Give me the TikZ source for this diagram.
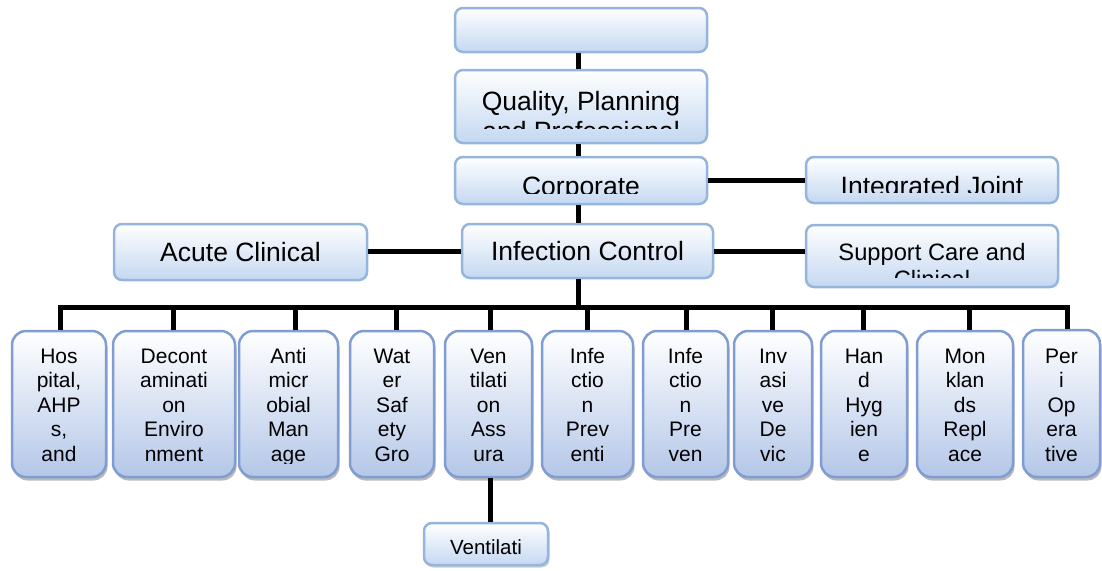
\documentclass[tikz,border=0pt]{standalone}
\usepackage{fontspec}
\setmainfont{Liberation Sans}
\usetikzlibrary{shadows}
\definecolor{tbord}{RGB}{149,181,220}
\definecolor{tfill}{RGB}{196,216,241}
\definecolor{bbord}{RGB}{127,157,210}
\definecolor{bfill}{RGB}{180,199,232}
\tikzset{
  topbox/.style={draw=tbord, line width=2.5pt, rounded corners=8pt, top color=white, bottom color=tfill, inner sep=0pt},
  botbox/.style={draw=bbord, line width=2.5pt, rounded corners=14pt, top color=white, bottom color=bfill, inner sep=0pt,
    drop shadow={shadow xshift=1.5pt, shadow yshift=-3.5pt, fill=black!50, opacity=0.55}},
  smallbox/.style={topbox, drop shadow={shadow xshift=1.5pt, shadow yshift=-2.5pt, fill=black!40, opacity=0.5}},
  link/.style={line width=5pt},
  bigtxt/.style={font=\fontsize{26.5}{30.5}\selectfont, anchor=base, inner sep=0pt},
  midtxt/.style={font=\fontsize{23.7}{27}\selectfont, anchor=base, inner sep=0pt},
  bottxt/.style={font=\fontsize{21}{24.5}\selectfont, anchor=base, inner sep=0pt},
  vtxt/.style={font=\fontsize{20.5}{24}\selectfont, anchor=base, inner sep=0pt},
}
% style, name, x1, y1, x2, y2
\newcommand\orgbox[6]{%
  \node[#1, minimum width={(#5-#3)*1pt}, minimum height={(#6-#4)*1pt}] (#2) at ({(#3+#5)/2},{(#4+#6)/2}) {};}
% name, clip x1, clip y1, clip x2, clip y2, style, baseline y, text
\newcommand\cliptext[8]{%
  \begin{scope}\clip (#2,#3) rectangle (#4,#5);
  \node[#6] (#1) at ({(#2+#4)/2},#7) {\begin{tabular}[t]{@{}c@{}}#8\end{tabular}};
  \end{scope}}
\begin{document}
\begin{tikzpicture}[x=1pt,y=-1pt]
\useasboundingbox (0,0) rectangle (1102,570);

% upper boxes
\orgbox{topbox}{top}{455}{8}{707}{52}
\orgbox{topbox}{qpp}{455}{70}{707}{143}
\orgbox{topbox}{corp}{455}{157}{707}{204}
\orgbox{topbox}{ij}{806}{157}{1058}{203}
\orgbox{topbox}{acute}{114}{224}{367}{280}
\orgbox{topbox}{ic}{462}{224}{713}{278}
\orgbox{topbox}{sup}{806}{225}{1058}{287}

\cliptext{tqpp}{455}{70}{707}{128}{bigtxt}{110}{Quality, Planning\\and Professional}
\cliptext{tcorp}{455}{157}{707}{193}{bigtxt}{195}{Corporate}
\cliptext{tij}{806}{157}{1058}{192}{bigtxt}{195}{Integrated Joint}
\cliptext{tacute}{114}{224}{367}{280}{bigtxt}{261}{Acute Clinical}
\cliptext{tic}{462}{224}{713}{278}{bigtxt}{260}{Infection Control}
\cliptext{tsup}{806}{225}{1058}{277}{midtxt}{260}{Support Care and\\Clinical}

% bottom boxes
\orgbox{botbox}{b1}{12}{331}{106}{477}
\orgbox{botbox}{b2}{113}{331}{235}{477}
\orgbox{botbox}{b3}{239}{331}{338}{477}
\orgbox{botbox}{b4}{350}{331}{434}{477}
\orgbox{botbox}{b5}{445}{331}{532}{477}
\orgbox{botbox}{b6}{542}{331}{633}{477}
\orgbox{botbox}{b7}{643}{331}{728}{477}
\orgbox{botbox}{b8}{734}{331}{812}{477}
\orgbox{botbox}{b9}{821}{331}{907}{477}
\orgbox{botbox}{b10}{917}{331}{1013}{477}
\orgbox{botbox}{b11}{1023}{330}{1100}{477}

\cliptext{t1}{12}{331}{106}{463}{bottxt}{363}{Hos\\pital,\\AHP\\s,\\and}
\cliptext{t2}{113}{331}{235}{463}{bottxt}{363}{Decont\\aminati\\on\\Enviro\\nment}
\cliptext{t3}{239}{331}{338}{463}{bottxt}{363}{Anti\\micr\\obial\\Man\\age}
\cliptext{t4}{350}{331}{434}{463}{bottxt}{363}{Wat\\er\\Saf\\ety\\Gro}
\cliptext{t5}{445}{331}{532}{463}{bottxt}{363}{Ven\\tilati\\on\\Ass\\ura}
\cliptext{t6}{542}{331}{633}{463}{bottxt}{363}{Infe\\ctio\\n\\Prev\\enti}
\cliptext{t7}{643}{331}{728}{463}{bottxt}{363}{Infe\\ctio\\n\\Pre\\ven}
\cliptext{t8}{734}{331}{812}{463}{bottxt}{363}{Inv\\asi\\ve\\De\\vic}
\cliptext{t9}{821}{331}{907}{463}{bottxt}{363}{Han\\d\\Hyg\\ien\\e}
\cliptext{t10}{917}{331}{1013}{463}{bottxt}{363}{Mon\\klan\\ds\\Repl\\ace}
\cliptext{t11}{1023}{330}{1100}{463}{bottxt}{363}{Per\\i\\Op\\era\\tive}

% ventilation sub box
\orgbox{smallbox}{vent}{424}{523}{548}{565}
\cliptext{tvent}{424}{523}{548}{565}{vtxt}{554}{Ventilati}

% connectors
\coordinate (tx) at (578,0);
\coordinate (d1) at (60,307);
\coordinate (d2) at (173,307);
\coordinate (d3) at (295,307);
\coordinate (d4) at (396,307);
\coordinate (d5) at (490,307);
\coordinate (d6) at (587,307);
\coordinate (d7) at (686,307);
\coordinate (d8) at (772,307);
\coordinate (d9) at (863,307);
\coordinate (d10) at (969,307);
\coordinate (d11) at (1067,307);

\draw[link] (top.south -| tx) -- (qpp.north -| tx);
\draw[link] (qpp.south -| tx) -- (corp.north -| tx);
\draw[link] (corp.south -| tx) -- (ic.north -| tx);
\draw[link] (corp.east) -- (ij.west |- corp.east);
\draw[link] (ic.west) -- (acute.east |- ic.west);
\draw[link] (ic.east) -- (sup.west |- ic.east);
\draw[link] (ic.south -| tx) -- (tx |- d1);
\draw[link] (b1.north -| d1) -- (d1) -- (d11) -- (b11.north -| d11);
\foreach \i in {2,...,10}{\draw[link] (d\i) -- (b\i.north -| d\i);}
\draw[link] (b5.south -| d5) -- (vent.north -| d5);
\end{tikzpicture}
\end{document}
